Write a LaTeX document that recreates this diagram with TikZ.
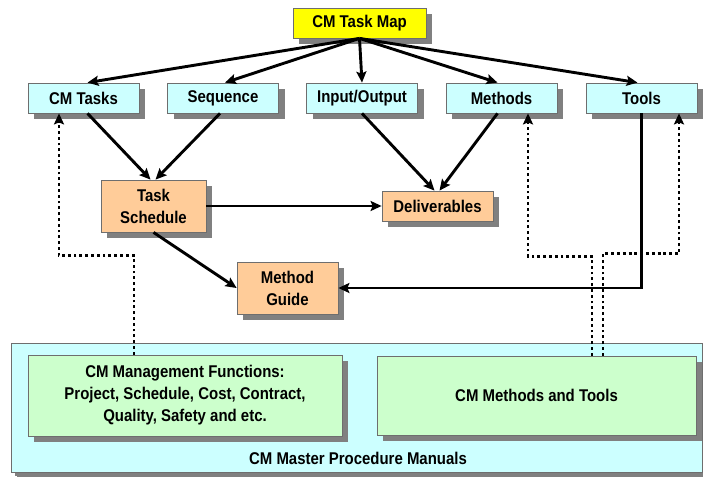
\documentclass[tikz,border=0pt]{standalone}
\usepackage{fontspec}
\setmainfont{Liberation Sans}[FakeStretch=0.88]
\usetikzlibrary{arrows.meta,shadows}
\definecolor{mapyellow}{HTML}{FFFF00}
\definecolor{topcyan}{HTML}{CCFFFF}
\definecolor{peach}{HTML}{FFCC99}
\definecolor{mint}{HTML}{CCFFCC}
\definecolor{shade}{HTML}{808080}
\definecolor{edge}{HTML}{6E6E6E}

\begin{document}
\begin{tikzpicture}[x=1pt,y=-1pt,
  box/.style={draw=edge, line width=0.8pt, align=center, inner sep=0pt,
    font=\fontsize{17}{22}\selectfont\bfseries,
    drop shadow={shadow xshift=6pt, shadow yshift=-6pt, fill=shade, opacity=1}},
  topbox/.style={box, fill=topcyan, minimum width=111pt, minimum height=30pt},
  midbox/.style={box, fill=peach},
  funcbox/.style={box, fill=mint},
  link/.style={line width=2.9pt, -{Stealth[length=11pt,width=10pt,inset=2pt]}},
  dotlink/.style={line width=2.9pt, dash pattern=on 2.9pt off 2.9pt,
    -{Stealth[length=11pt,width=10pt,inset=2pt]}},
]
\useasboundingbox (0,0) rectangle (703,476);

% manual frame holding the two function groups
\node[box, fill=topcyan, minimum width=691pt, minimum height=129pt,
  drop shadow={shadow xshift=4pt, shadow yshift=-4pt, fill=shade, opacity=1}]
  (manual) at (356.5,407.5) {};
\node[font=\fontsize{17}{20}\selectfont\bfseries] (manualtitle) at (358,458)
  {CM Master Procedure Manuals};

% top-level map and its five components
\node[box, fill=mapyellow, minimum width=133pt, minimum height=30pt]
  (map) at (359.5,23) {CM Task Map};
\node[topbox] (tasks) at (83.5,98)  {CM Tasks};
\node[topbox] (seq)   at (223,98)   {Sequence};
\node[topbox] (io)    at (362,98)   {Input/Output};
\node[topbox] (meth)  at (501.5,98) {Methods};
\node[topbox] (tools) at (641.5,98) {Tools};

% derived documents
\node[midbox, minimum width=105pt, minimum height=52pt]
  (sched) at (153.5,206) {Task\\Schedule};
\node[midbox, minimum width=111pt, minimum height=30pt]
  (deliv) at (437.5,206) {Deliverables};
\node[midbox, minimum width=101pt, minimum height=52pt]
  (guide) at (287.5,288) {Method\\Guide};

% function groups inside the manual
\node[funcbox, minimum width=314pt, minimum height=81pt] (mgmt) at (185,395.5)
  {CM Management Functions:\\Project, Schedule, Cost, Contract,\\Quality, Safety and etc.};
\node[funcbox, minimum width=319pt, minimum height=79pt] (mtools) at (536.5,395.5)
  {CM Methods and Tools};

% map fans out to the components
\draw[link] (map.south) -- ([xshift=4pt]tasks.north);
\draw[link] (map.south) -- ([xshift=2pt]seq.north);
\draw[link] (map.south) -- (io.north);
\draw[link] (map.south) -- ([xshift=-4pt]meth.north);
\draw[link] (map.south) -- ([xshift=-4pt]tools.north);

% components feed the derived documents
\draw[link] ([xshift=4pt]tasks.south) -- ([xshift=-3pt]sched.north);
\draw[link] ([xshift=-3pt]seq.south) -- ([xshift=2pt]sched.north);
\draw[link] (io.south) -- ([xshift=-3pt]deliv.north);
\draw[link] ([xshift=-4pt]meth.south) -- ([xshift=2pt]deliv.north);
\draw[link] (sched.east) -- (deliv.west);
\draw[link] (sched.south) -- (guide.west);
\draw[link] (tools.south) |- (guide.east);

% feedback from the manual groups
\draw[dotlink] ([xshift=-51pt]mgmt.north) -- ++(0,-99) -| ([xshift=-24.5pt]tasks.south);
\draw[dotlink] ([xshift=55.5pt]mtools.north) -- ++(0,-99) -| ([xshift=26.5pt]meth.south);
\draw[dotlink] ([xshift=66.5pt]mtools.north) -- ++(0,-102) -| ([xshift=37.5pt]tools.south);
\end{tikzpicture}
\end{document}
